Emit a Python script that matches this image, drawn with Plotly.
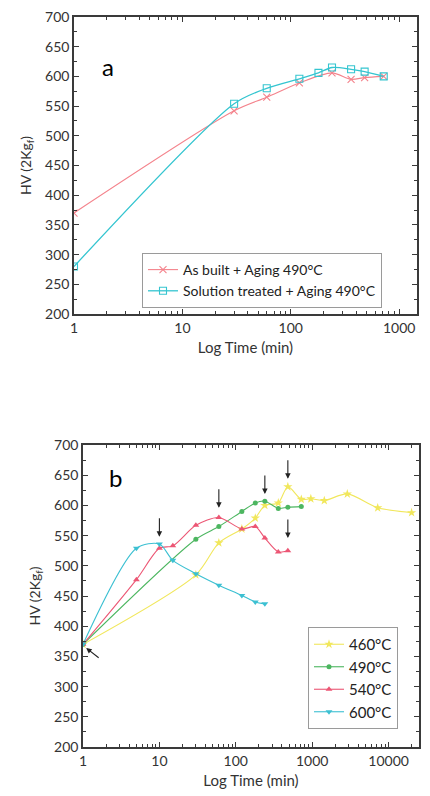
import numpy as np
import plotly.graph_objects as go

# ---------------- Panel a data ----------------
a_built_t = [1, 30, 60, 120, 240, 360, 480, 720]
a_built_hv = [370, 542, 565, 589, 606, 595, 598, 600]
a_sol_t = [1, 30, 60, 120, 180, 240, 360, 480, 720]
a_sol_hv = [280, 554, 580, 596, 606, 615, 612, 608, 600]
a_names = ["As built + Aging 490°C", "Solution treated + Aging 490°C"]

# ---------------- Panel b data ----------------
b_460_t = [1, 30, 60, 120, 180, 240, 360, 480, 720, 960, 1440, 2880, 7200, 20000]
b_460_hv = [370, 485, 538, 561, 579, 600, 604, 631, 610, 611, 608, 619, 596, 588]
b_490_t = [1, 30, 60, 120, 180, 240, 360, 480, 720]
b_490_hv = [370, 544, 565, 590, 604, 607, 595, 597, 598]
b_540_t = [1, 5, 10, 15, 30, 60, 120, 180, 240, 360, 480]
b_540_hv = [370, 477, 529, 533, 567, 580, 561, 565, 546, 523, 525]
b_600_t = [1, 5, 10, 15, 30, 60, 120, 180, 240]
b_600_hv = [370, 529, 536, 509, 487, 468, 451, 440, 437]
b_names = ["460°C", "490°C", "540°C", "600°C"]

# arrows (time, HV at arrow head)
arrow_t = [10, 60, 240, 480, 480]
arrow_hv = [548, 596, 619, 644, 546]

x_a_ticks = [1, 10, 100, 1000]
x_b_ticks = [1, 10, 100, 1000, 10000]

FONT = "Lato"
AX = "#3a3a3a"

fig = go.Figure()

# panel a traces
fig.add_trace(go.Scatter(x=a_built_t, y=a_built_hv, name=a_names[0], mode="lines+markers",
                         line=dict(color="#f4838c", width=1.1, shape="spline", smoothing=0.8),
                         marker=dict(symbol="x-thin-open", size=7, color="#f4838c",
                                     line=dict(width=1.1, color="#f4838c")),
                         xaxis="x", yaxis="y", legend="legend"))
fig.add_trace(go.Scatter(x=a_sol_t, y=a_sol_hv, name=a_names[1], mode="lines+markers",
                         line=dict(color="#34c5d0", width=1.3, shape="spline", smoothing=0.8),
                         marker=dict(symbol="square-open", size=7, color="#34c5d0",
                                     line=dict(width=1.1, color="#34c5d0")),
                         xaxis="x", yaxis="y", legend="legend"))

# panel b traces
b_series = [
    (b_460_t, b_460_hv, "#f1e75c", "star", 7),
    (b_490_t, b_490_hv, "#4cb660", "circle", 5),
    (b_540_t, b_540_hv, "#ec5674", "triangle-up", 6),
    (b_600_t, b_600_hv, "#3cc0d2", "triangle-down", 6),
]
for (t, hv, col, sym, sz), nm in zip(b_series, b_names):
    fig.add_trace(go.Scatter(x=t, y=hv, name=nm, mode="lines+markers",
                             line=dict(color=col, width=1.1, shape="spline", smoothing=0.8),
                             marker=dict(symbol=sym, size=sz, color=col),
                             xaxis="x2", yaxis="y2", legend="legend2"))

W, H = 430, 796
def px_x(p):
    return p / W
def px_y(p):
    return 1 - p / H

common_x = dict(type="log", showline=True, linecolor=AX, linewidth=1.5, mirror="ticks",
                ticks="inside", ticklen=5, tickcolor=AX, tickwidth=1.2,
                showgrid=False, zeroline=False, automargin=False,
                tickfont=dict(family=FONT, size=14, color="#333"),
                minor=dict(ticks="inside", ticklen=3, tickcolor=AX, dtick="D1", showgrid=False),
                title=dict(text="Log Time (min)", font=dict(family=FONT, size=15, color="#333"),
                           standoff=8))
common_y = dict(range=[200, 700], dtick=50, showline=True, linecolor=AX, linewidth=1.5,
                mirror="ticks", ticks="inside", ticklen=5, tickcolor=AX, tickwidth=1.2,
                showgrid=False, zeroline=False, automargin=False,
                tickfont=dict(family=FONT, size=14, color="#333"),
                minor=dict(ticks="inside", ticklen=3, tickcolor=AX, dtick=25, showgrid=False),
                title=dict(text="HV (2Kg<sub>f</sub>)", font=dict(family=FONT, size=14, color="#333"),
                           standoff=10))

xa = dict(common_x)
xa.update(domain=[px_x(74), px_x(417)], range=[0, np.log10(1460)], anchor="y",
          tickvals=x_a_ticks, ticktext=[str(v) for v in x_a_ticks])
xb = dict(common_x)
xb.update(domain=[px_x(83), px_x(419)], range=[0, np.log10(25000)], anchor="y2",
          tickvals=x_b_ticks, ticktext=[str(v) for v in x_b_ticks])
ya = dict(common_y)
ya.update(domain=[px_y(314), px_y(17)], anchor="x")
yb = dict(common_y)
yb.update(domain=[px_y(747), px_y(445)], anchor="x2")

annotations = [
    dict(text="a", x=px_x(100), y=px_y(50), xref="paper", yref="paper", showarrow=False,
         font=dict(family=FONT, size=24, color="black")),
    dict(text="b", x=px_x(107), y=px_y(477), xref="paper", yref="paper", showarrow=False,
         font=dict(family=FONT, size=24, color="black")),
]
for t, hv in zip(arrow_t, arrow_hv):
    annotations.append(dict(x=np.log10(t), y=hv, xref="x2", yref="y2", text="",
                            showarrow=True, arrowhead=2, arrowsize=1, arrowwidth=1.1,
                            arrowcolor="#222", ax=0, ay=-20))
annotations.append(dict(x=np.log10(1.1), y=364, xref="x2", yref="y2", text="",
                        showarrow=True, arrowhead=2, arrowsize=1, arrowwidth=1.1,
                        arrowcolor="#222", ax=14, ay=11))

fig.update_layout(
    width=W, height=H, margin=dict(l=0, r=0, t=0, b=0),
    paper_bgcolor="white", plot_bgcolor="white",
    xaxis=xa, yaxis=ya, xaxis2=xb, yaxis2=yb,
    font=dict(family=FONT, color="#222"),
    legend=dict(x=px_x(142), y=px_y(253), xanchor="left", yanchor="top",
                bordercolor="#9a9a9a", borderwidth=1, bgcolor="white",
                font=dict(family=FONT, size=14, color="#222"), tracegroupgap=0),
    legend2=dict(x=px_x(308), y=px_y(627), xanchor="left", yanchor="top",
                 bordercolor="#9a9a9a", borderwidth=1, bgcolor="white",
                 font=dict(family=FONT, size=15, color="#222"), tracegroupgap=0),
    annotations=annotations,
    showlegend=True,
)

fig.write_html("out.html")
